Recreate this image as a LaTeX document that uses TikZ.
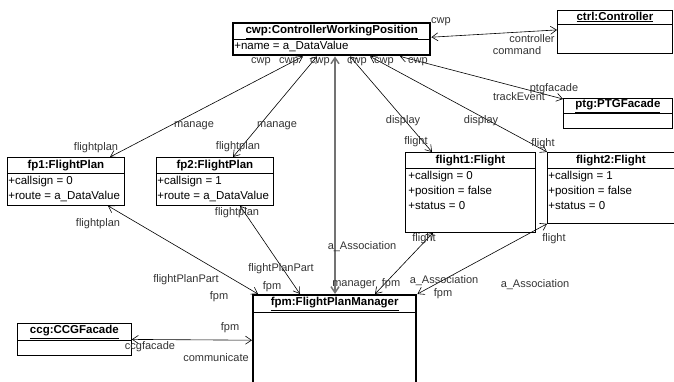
\documentclass[tikz,border=0pt]{standalone}
\usepackage{fontspec}
\setmainfont{Liberation Sans}
\usetikzlibrary{arrows.meta}
\begin{document}
\begin{tikzpicture}[x=1pt,y=-1pt,line width=0.6pt,>={Straight Barb[length=6pt,width=8pt]},
    obj/.style={draw,anchor=north west,inner sep=0pt,line width=0.8pt},
    act/.style={obj,line width=2.4pt},
    ttl/.style={font=\fontsize{11.5}{14}\selectfont\bfseries,inner sep=0pt},
    attr/.style={anchor=north west,align=left,inner sep=1pt,font=\fontsize{11.5}{14.8}\selectfont},
    lbl/.style={inner sep=0pt,text=black!80,font=\fontsize{11}{13}\selectfont}]
        \useasboundingbox(0,0)rectangle(674,381);\clip(0,0)rectangle(674,381);
        % objects
        \node[act,minimum width=197pt,minimum height=32pt](cwp)at(232,22){};
        \node[ttl]at([yshift=-10pt]cwp.north){\underline{cwp:ControllerWorkingPosition}};
        \draw([yshift=-17pt]cwp.north west)--([yshift=-17pt]cwp.north east);
        \node[attr]at([shift={(1pt,-18pt)}]cwp.north west){+name = a\_DataValue};
        \node[obj,minimum width=115pt,minimum height=43pt](ctrl)at(557,10){};
        \node[ttl]at([yshift=-7pt]ctrl.north){\underline{ctrl:Controller}};
        \draw([yshift=-14pt]ctrl.north west)--([yshift=-14pt]ctrl.north east);
        \node[obj,minimum width=109pt,minimum height=30pt](ptg)at(563,98){};
        \node[ttl]at([yshift=-8pt]ptg.north){\underline{ptg:PTGFacade}};
        \draw([yshift=-15pt]ptg.north west)--([yshift=-15pt]ptg.north east);
        \node[obj,minimum width=117pt,minimum height=48pt](fp1)at(7,157){};
        \node[ttl]at([yshift=-10pt]fp1.north){\underline{fp1:FlightPlan}};
        \draw([yshift=-16pt]fp1.north west)--([yshift=-16pt]fp1.north east);
        \node[attr]at([shift={(0pt,-18pt)}]fp1.north west){+callsign = 0\\+route = a\_DataValue};
        \node[obj,minimum width=117pt,minimum height=48pt](fp2)at(156,157){};
        \node[ttl]at([yshift=-10pt]fp2.north){\underline{fp2:FlightPlan}};
        \draw([yshift=-16pt]fp2.north west)--([yshift=-16pt]fp2.north east);
        \node[attr]at([shift={(0pt,-18pt)}]fp2.north west){+callsign = 1\\+route = a\_DataValue};
        \node[obj,minimum width=130pt,minimum height=80pt](flight1)at(405,152){};
        \node[ttl]at([yshift=-10pt]flight1.north){\underline{flight1:Flight}};
        \draw([yshift=-16pt]flight1.north west)--([yshift=-16pt]flight1.north east);
        \node[attr]at([shift={(2pt,-18pt)}]flight1.north west){+callsign = 0\\+position = false\\+status = 0};
        \node[obj,minimum width=127pt,minimum height=71pt](flight2)at(547,152){};
        \node[ttl]at([yshift=-10pt]flight2.north){\underline{flight2:Flight}};
        \draw([yshift=-16pt]flight2.north west)--([yshift=-16pt]flight2.north east);
        \node[attr]at([shift={(0pt,-18pt)}]flight2.north west){+callsign = 1\\+position = false\\+status = 0};
        \node[act,minimum width=163pt,minimum height=90pt](fpm)at(252,294){};
        \node[ttl]at([yshift=-10pt]fpm.north){\underline{fpm:FlightPlanManager}};
        \draw([yshift=-18pt]fpm.north west)--([yshift=-18pt]fpm.north east);
        \node[obj,minimum width=114pt,minimum height=32pt](ccg)at(17,323){};
        \node[ttl]at([yshift=-9pt]ccg.north){\underline{ccg:CCGFacade}};
        \draw([yshift=-17pt]ccg.north west)--([yshift=-17pt]ccg.north east);
        % links
        \draw[<->]([yshift=2pt]cwp.east)--([yshift=2pt]ctrl.west);
        \draw[<->]([xshift=168pt]cwp.south west)--([yshift=-1pt]ptg.north west);
        \draw[<->]([xshift=71pt]cwp.south west)--([xshift=103pt]fp1.north west);
        \draw[<->]([xshift=85pt]cwp.south west)--([xshift=77pt]fp2.north west);
        \draw[<->,line width=1.5pt,draw=black!55]([xshift=103pt]cwp.south west)--([xshift=83pt]fpm.north west);
        \draw[<->]([xshift=118pt]cwp.south west)--([xshift=27pt]flight1.north west);
        \draw[<->]([xshift=138pt]cwp.south west)--(flight2.north west);
        \draw[<->]([xshift=101pt]fp1.south west)--([xshift=6pt]fpm.north west);
        \draw[<->]([xshift=84pt]fp2.south west)--([xshift=48pt]fpm.north west);
        \draw[<->]([xshift=28pt]flight1.south west)--([xshift=123pt]fpm.north west);
        \draw[<->](flight2.south west)--(fpm.north east);
        \draw[<->](ccg.east)--(fpm.west);
        % role names
        \node[lbl](r1)at(441,22){cwp};\node[lbl](r2)at(532,39){controller};\node[lbl](r3)at(517,51){command};
        \node[lbl](r4)at(554,89){ptgfacade};\node[lbl](r5)at(519,97){trackEvent};
        \node[lbl](r6)at(261,62){cwp};\node[lbl](r7)at(289,62){cwp};\node[lbl](r8)at(320,62){cwp};
        \node[lbl](r9)at(357,62){cwp};\node[lbl](r10)at(384,62){cwp};\node[lbl](r11)at(418,62){cwp};
        \node[lbl](r12)at(194,126){manage};\node[lbl](r13)at(277,126){manage};
        \node[lbl](r14)at(96,148){flightplan};\node[lbl](r15)at(238,147){flightplan};
        \node[lbl](r16)at(403,121){display};\node[lbl](r17)at(481,121){display};
        \node[lbl](r18)at(416,142){flight};\node[lbl](r19)at(543,144){flight};
        \node[lbl](r20)at(362,247){a\_Association};
        \node[lbl](r21)at(98,224){flightplan};\node[lbl](r22)at(237,213){flightplan};
        \node[lbl](r23)at(186,280){flightPlanPart};\node[lbl](r24)at(281,269){flightPlanPart};
        \node[lbl](r25)at(219,297){fpm};\node[lbl](r26)at(272,287){fpm};
        \node[lbl](r27)at(354,285){manager};\node[lbl](r28)at(391,284){fpm};
        \node[lbl](r29)at(424,239){flight};\node[lbl](r30)at(554,239){flight};
        \node[lbl](r31)at(444,281){a\_Association};\node[lbl](r32)at(443,294){fpm};
        \node[lbl](r33)at(535,285){a\_Association};
        \node[lbl](r34)at(230,328){fpm};\node[lbl](r35)at(150,347){ccgfacade};\node[lbl](r36)at(216,358){communicate};
    \end{tikzpicture}
\end{document}
